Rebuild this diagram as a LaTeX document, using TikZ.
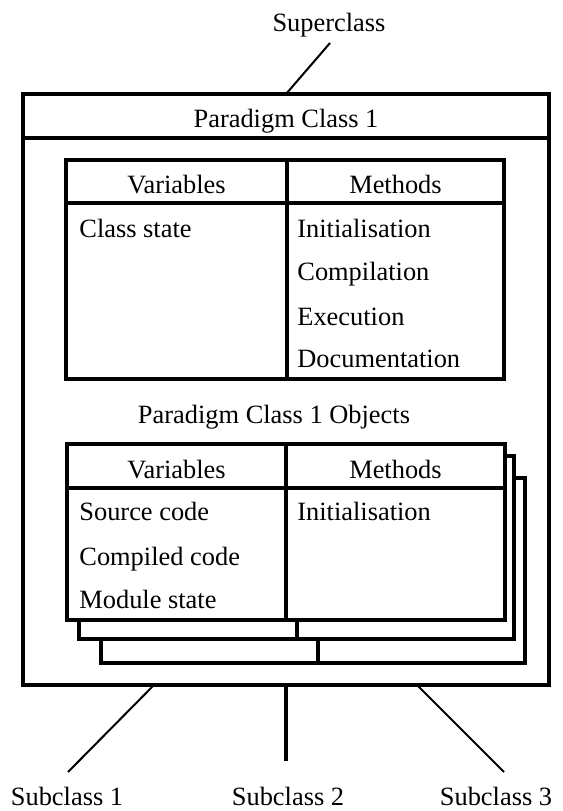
\documentclass[tikz,border=0pt]{standalone}
\usepackage{fontspec}
\setmainfont{Liberation Serif}
\usetikzlibrary{fit}
\tikzset{
  frame/.style={draw,line width=1.6pt,inner sep=0pt,fill=white},
  rule/.style={line width=1.6pt},
  lbl/.style={font=\fontsize{13.2}{15}\selectfont,inner sep=0pt,anchor=base},
  rowtxt/.style={lbl,anchor=base west},
  link/.style={line width=1pt},
  stem/.style={line width=1.6pt}
}
\begin{document}
\begin{tikzpicture}[x=0.5pt,y=-0.5pt]
\useasboundingbox (0,0) rectangle (563,811);
% outer class frame
\node[frame,fit={(23,94)(549,685)}] (cls) {};
\draw[rule] (23,138) -- (549,138);
\node[lbl] (clsname) at (286,127) {Paradigm Class 1};
% class table
\node[frame,fit={(66,160)(504,379)}] (ctab) {};
\draw[rule] (66,203) -- (504,203) (287,160) -- (287,379);
\node[lbl] (cvar) at (176.5,193) {Variables};
\node[lbl] (cmeth) at (395.5,193) {Methods};
\node[rowtxt] (cstate) at (79,237) {Class state};
\node[rowtxt] (cinit) at (297,237) {Initialisation};
\node[rowtxt] (ccomp) at (297,280) {Compilation};
\node[rowtxt] (cexec) at (297,325) {Execution};
\node[rowtxt] (cdoc) at (297,367) {Documentation};
% object tables, stacked
\node[lbl] (objname) at (274,423) {Paradigm Class 1 Objects};
\node[frame,fit={(101,478)(525,663)}] (obj3) {};
\draw[rule] (318,478) -- (318,663);
\node[frame,fit={(79,456)(514,639)}] (obj2) {};
\draw[rule] (297,456) -- (297,639);
\node[frame,fit={(67,444)(505,620)}] (obj1) {};
\draw[rule] (67,488) -- (505,488) (286,444) -- (286,620);
\node[lbl] (ovar) at (176.5,478) {Variables};
\node[lbl] (ometh) at (395.5,478) {Methods};
\node[rowtxt] (osrc) at (79,520) {Source code};
\node[rowtxt] (ocomp) at (79,565) {Compiled code};
\node[rowtxt] (ostate) at (79,608) {Module state};
\node[rowtxt] (oinit) at (297,520) {Initialisation};
% super and sub classes
\node[lbl] (sup) at (329,31) {Superclass};
\node[lbl] (sub1) at (67,805) {Subclass 1};
\node[lbl] (sub2) at (288,805) {Subclass 2};
\node[lbl] (sub3) at (496,805) {Subclass 3};
\coordinate (suptop) at (330,43);
\coordinate (supfoot) at (286,94);
\coordinate (s1top) at (154,685);
\coordinate (s1end) at (68,772);
\coordinate (s2top) at (286,685);
\coordinate (s2end) at (286,761);
\coordinate (s3top) at (417,685);
\coordinate (s3end) at (504,772);
\draw[link] (suptop) -- (supfoot);
\draw[link] (s1top) -- (s1end);
\draw[stem] (s2top) -- (s2end);
\draw[link] (s3top) -- (s3end);
\end{tikzpicture}
\end{document}
